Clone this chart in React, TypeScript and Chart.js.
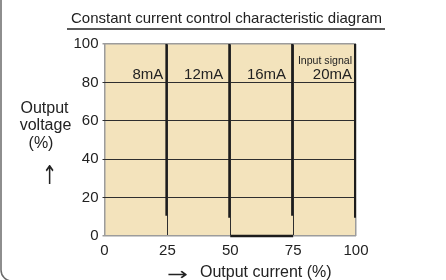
import React, { useEffect, useRef } from "react";
import { Chart, registerables } from "chart.js";

Chart.register(...registerables);

const chartTitle = "Constant current control characteristic diagram";
const yTitleLines = ["Output", "voltage", "(%)"];
const yArrow = "↑";
const xArrow = "→";
const xTitle = "Output current (%)";
const signalLabels = ["8mA", "12mA", "16mA", "20mA"];
const signalNote = "Input signal";
const lineX = [24.6, 49.6, 74.6, 99.6];
const lineTop = [100, 100, 100, 100];
const lineBottom = [10.5, 9.5, 10.5, 9.5];
const baseSegX = [50, 75];
const baseSegY = [0, 0];
const xTicks = [0, 25, 50, 75, 100];
const yTicks = [0, 20, 40, 60, 80, 100];

const FONT = "'Liberation Sans', Arial, Helvetica, sans-serif";
const ARROW_FONT = "'DejaVu Sans', sans-serif";
const BEIGE = "#F3E3BC";
const DARK = "#1c1c1c";
const GRID = "#2e2e2e";
const EDGE = "#9c9c9c";

export default function App() {
  const ref = useRef<HTMLCanvasElement | null>(null);

  useEffect(() => {
    if (!ref.current) return;

    const decor = {
      id: "decor",
      beforeDraw(chart: any) {
        const { ctx, chartArea } = chart;
        ctx.save();
        ctx.fillStyle = BEIGE;
        ctx.fillRect(
          chartArea.left,
          chartArea.top,
          chartArea.right - chartArea.left,
          chartArea.bottom - chartArea.top
        );
        ctx.restore();
      },
      afterDraw(chart: any) {
        const { ctx, scales } = chart;
        const xs = scales.x;
        const ys = scales.y;
        ctx.save();
        // outer frame
        ctx.strokeStyle = "#6a6a6a";
        ctx.lineWidth = 1.5;
        ctx.beginPath();
        ctx.moveTo(1, -2);
        ctx.lineTo(1, 270);
        ctx.arcTo(1, 281, 12, 281, 11);
        ctx.stroke();

        // title
        ctx.fillStyle = "#222";
        ctx.font = `15px ${FONT}`;
        ctx.textAlign = "center";
        ctx.textBaseline = "alphabetic";
        ctx.fillText(chartTitle, 226.5, 23);
        ctx.strokeStyle = "#222";
        ctx.lineWidth = 1.5;
        ctx.beginPath();
        ctx.moveTo(67, 29);
        ctx.lineTo(385, 29);
        ctx.stroke();

        // y title
        ctx.font = `16px ${FONT}`;
        ctx.fillStyle = "#222";
        ctx.textAlign = "center";
        const yCenters = [44.5, 45.5, 41];
        const yBases = [113, 130, 148];
        yTitleLines.forEach((t, i) => ctx.fillText(t, yCenters[i], yBases[i]));
        ctx.save();
        ctx.font = `26px ${ARROW_FONT}`;
        ctx.translate(49.5, 184);
        ctx.scale(0.7, 1);
        ctx.fillText(yArrow, 0, 0);
        ctx.restore();

        // x title
        ctx.save();
        ctx.font = `25px ${ARROW_FONT}`;
        ctx.textAlign = "center";
        ctx.translate(177.5, 280);
        ctx.scale(1, 0.7);
        ctx.fillText(xArrow, 0, 0);
        ctx.restore();
        ctx.font = `16px ${FONT}`;
        ctx.textAlign = "left";
        ctx.fillText(xTitle, 200, 277);

        // signal labels
        const baseY = ys.getPixelForValue(80) - 3;
        ctx.textAlign = "right";
        ctx.font = `15px ${FONT}`;
        signalLabels.forEach((t, i) => {
          const px = xs.getPixelForValue(lineX[i]) - (i === 0 ? 3 : i === 3 ? 3 : 6);
          ctx.fillText(t, px, baseY);
        });
        ctx.font = `11.5px ${FONT}`;
        ctx.save();
        const lastX = xs.getPixelForValue(lineX[3]) - 3;
        ctx.translate(lastX, baseY - 15.5);
        ctx.scale(0.92, 1);
        ctx.fillText(signalNote, 0, 0);
        ctx.restore();
        ctx.restore();
      },
    };

    const datasets: any[] = lineX.map((x, i) => ({
      type: "line",
      data: [
        { x, y: lineTop[i] },
        { x, y: lineBottom[i] },
      ],
      borderColor: DARK,
      borderWidth: 2,
      pointRadius: 0,
      clip: false,
    }));
    datasets.push({
      type: "line",
      data: baseSegX.map((x, i) => ({ x, y: baseSegY[i] })),
      borderColor: DARK,
      borderWidth: 2.5,
      pointRadius: 0,
      clip: false,
    });

    const chart = new Chart(ref.current, {
      type: "line",
      data: { datasets },
      options: {
        animation: false,
        responsive: false,
        maintainAspectRatio: false,
        layout: { padding: { left: 0, top: 44, right: 90, bottom: 0 } },
        plugins: {
          legend: { display: false },
          tooltip: { enabled: false },
          title: { display: false },
        },
        scales: {
          x: {
            type: "linear",
            min: 0,
            max: 100,
            afterBuildTicks: (s: any) => {
              s.ticks = xTicks.map((v) => ({ value: v }));
            },
            afterFit: (s: any) => {
              s.height = 44;
            },
            border: { display: false },
            grid: {
              drawTicks: false,
              color: (c: any) =>
                c.tick && (c.tick.value === 0 || c.tick.value === 100) ? EDGE : GRID,
              lineWidth: (c: any) =>
                c.tick && (c.tick.value === 0 || c.tick.value === 100) ? 1.5 : 1,
            },
            ticks: {
              color: "#222",
              font: { family: FONT, size: 15 },
              padding: 6,
              maxRotation: 0,
            },
          },
          y: {
            type: "linear",
            min: 0,
            max: 100,
            afterBuildTicks: (s: any) => {
              s.ticks = yTicks.map((v) => ({ value: v }));
            },
            afterFit: (s: any) => {
              s.width = 104.5;
            },
            border: { display: false },
            grid: {
              tickLength: 2,
              color: (c: any) =>
                c.tick && (c.tick.value === 0 || c.tick.value === 100) ? EDGE : GRID,
              lineWidth: (c: any) =>
                c.tick && (c.tick.value === 0 || c.tick.value === 100) ? 1.5 : 1,
            },
            ticks: {
              color: "#222",
              font: { family: FONT, size: 15 },
              padding: 4,
            },
          },
        },
      },
      plugins: [decor],
    });

    return () => chart.destroy();
  }, []);

  return (
    <div style={{ position: "fixed", left: 0, top: 0, width: 446, height: 280, background: "#fff" }}>
      <canvas ref={ref} width={446} height={280} style={{ width: 446, height: 280, display: "block" }} />
    </div>
  );
}
